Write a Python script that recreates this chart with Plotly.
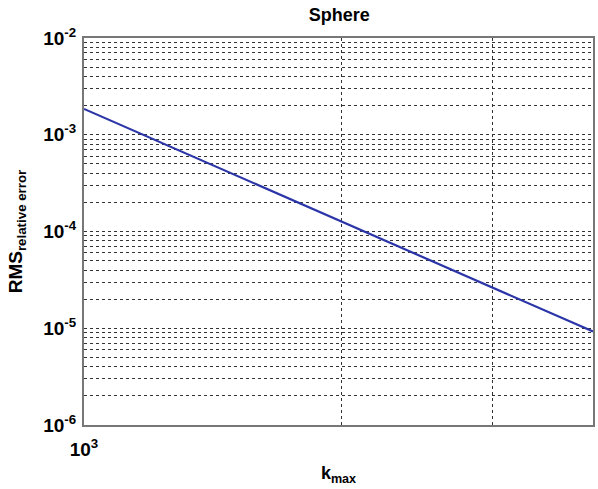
import plotly.graph_objects as go

# k_max samples and RMS relative error for the sphere case
kmax = [1000, 1500, 2000, 2500, 3000, 3500, 3930]
rms_rel_error = [1.85e-3, 3.85e-4, 1.26e-4, 5.32e-5, 2.63e-5, 1.45e-5, 9.25e-6]

# labelled decades and unlabelled intermediate grid positions
x_ticks = [1000]
x_labels = ["10<sup>3</sup>"]
x_minor = [2000, 3000]
y_decades = [-6, -5, -4, -3, -2]
y_ticks = [10.0 ** d for d in y_decades]
y_labels = [f"10<sup>{d}</sup>" for d in y_decades]
y_minor = [m * 10.0 ** d for d in y_decades[:-1] for m in range(2, 10)]

fig = go.Figure()
fig.add_trace(go.Scatter(
    x=kmax, y=rms_rel_error, mode="lines",
    line=dict(color="#2b35a8", width=2.2),
))

font_family = "Liberation Sans, Arial, sans-serif"
grid_style = dict(showgrid=True, gridcolor="#333333", griddash="3px,3px", gridwidth=1)
frame_style = dict(showline=True, mirror=True, linecolor="#777777", linewidth=2, zeroline=False)

fig.update_layout(
    width=598, height=489,
    margin=dict(l=84, r=3, t=38, b=64),
    paper_bgcolor="white", plot_bgcolor="white",
    showlegend=False,
    font=dict(family=font_family, color="black"),
    title=dict(text="<b>Sphere</b>", x=0.5675, xanchor="center", y=0.982, yanchor="top",
               font=dict(size=18, family=font_family)),
    xaxis=dict(
        type="log", range=[3, 3.5944],
        tickvals=x_ticks, ticktext=x_labels,
        tickfont=dict(size=19, weight="bold"),
        ticks="outside", ticklen=6, tickcolor="rgba(0,0,0,0)",
        minor=dict(tickvals=x_minor, ticks="", **grid_style),
        **grid_style, **frame_style,
        title=dict(text="<b>k<sub>max</sub></b>", font=dict(size=18), standoff=8),
    ),
    yaxis=dict(
        type="log", range=[-6, -2],
        tickvals=y_ticks, ticktext=y_labels,
        tickfont=dict(size=19, weight="bold"),
        ticks="outside", ticklen=2, tickcolor="rgba(0,0,0,0)",
        minor=dict(tickvals=y_minor, ticks="", **grid_style),
        **grid_style, **frame_style,
        title=dict(text="<b>RMS<sub>relative error</sub></b>", font=dict(size=19), standoff=16),
    ),
)

fig.write_html("out.html")
